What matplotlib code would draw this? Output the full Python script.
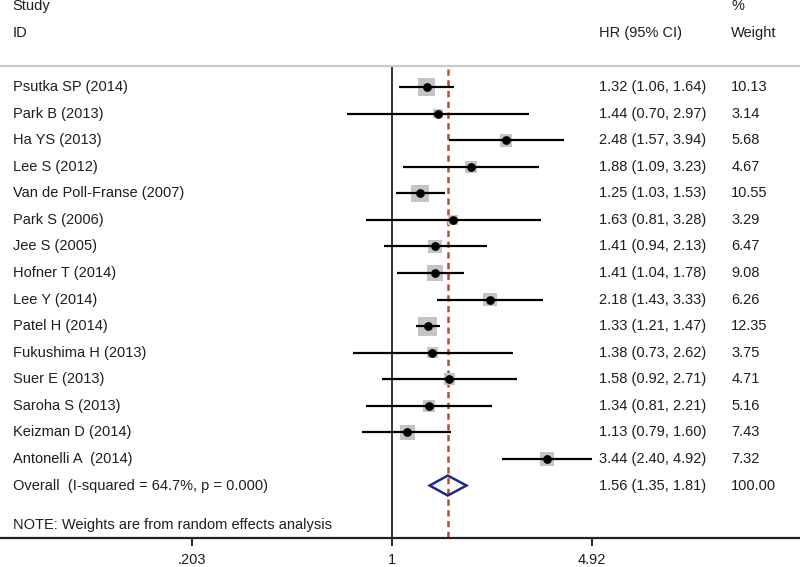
import numpy as np
import matplotlib
matplotlib.use("Agg")
import matplotlib.pyplot as plt
from matplotlib.patches import Polygon

plt.rcParams['font.family'] = ['Liberation Sans', 'DejaVu Sans']

studies = ["Psutka SP (2014)", "Park B (2013)", "Ha YS (2013)", "Lee S (2012)",
           "Van de Poll-Franse (2007)", "Park S (2006)", "Jee S (2005)",
           "Hofner T (2014)", "Lee Y (2014)", "Patel H (2014)",
           "Fukushima H (2013)", "Suer E (2013)", "Saroha S (2013)",
           "Keizman D (2014)", "Antonelli A  (2014)"]
hr = [1.32, 1.44, 2.48, 1.88, 1.25, 1.63, 1.41, 1.41, 2.18, 1.33, 1.38, 1.58, 1.34, 1.13, 3.44]
lo = [1.06, 0.70, 1.57, 1.09, 1.03, 0.81, 0.94, 1.04, 1.43, 1.21, 0.73, 0.92, 0.81, 0.79, 2.40]
hi = [1.64, 2.97, 3.94, 3.23, 1.53, 3.28, 2.13, 1.78, 3.33, 1.47, 2.62, 2.71, 2.21, 1.60, 4.92]
weight = [10.13, 3.14, 5.68, 4.67, 10.55, 3.29, 6.47, 9.08, 6.26, 12.35, 3.75, 4.71, 5.16, 7.43, 7.32]

overall_label = "Overall  (I-squared = 64.7%, p = 0.000)"
overall = (1.56, 1.35, 1.81)
overall_weight = 100.00
note = "NOTE: Weights are from random effects analysis"
xticks = [0.203, 1, 4.92]
xticklabels = [".203", "1", "4.92"]

txt = '#1e1e1e'
fs = 10.5

fig = plt.figure(figsize=(8, 5.67), dpi=100)
ax = fig.add_axes([0, 1 - 538 / 567, 1, 538 / 567])
ax.set_xscale('log')
ax.set_xlim(np.exp(-392 / 125.5), np.exp(408 / 125.5))
ybot = (538 - 87) / 26.57
ax.set_ylim(ybot, -87 / 26.57)

for s in ['top', 'left', 'right']:
    ax.spines[s].set_visible(False)
ax.spines['bottom'].set_linewidth(1.6)
ax.spines['bottom'].set_color('#222222')
ax.set_yticks([])
ax.set_xticks(xticks)
ax.set_xticklabels(xticklabels)
ax.minorticks_off()
ax.tick_params(axis='x', direction='out', length=6, width=1.4, pad=5,
               labelsize=fs, labelcolor=txt, color='#222222')

n = len(studies)
rows = np.arange(n)
top = -0.79
tr = ax.get_yaxis_transform()

# header
ax.axhline(top, color='#c8c8c8', lw=1.6)
ax.text(0.016, -3.05, "Study", transform=tr, fontsize=fs, color=txt, va='center')
ax.text(0.016, -2.03, "ID", transform=tr, fontsize=fs, color=txt, va='center')
ax.text(0.749, -2.03, "HR (95% CI)", transform=tr, fontsize=fs, color=txt, va='center')
ax.text(0.914, -3.05, "%", transform=tr, fontsize=fs, color=txt, va='center')
ax.text(0.914, -2.03, "Weight", transform=tr, fontsize=fs, color=txt, va='center')

# reference lines
ax.vlines(1, top, ybot, color='#111111', lw=1.2, zorder=1)
ax.vlines(overall[0], top + 0.1, ybot, color='#b5512f', lw=1.8, linestyles=(0, (2.5, 1.8)), zorder=1)

# studies
ax.scatter(hr, rows, marker='s', s=np.array(weight) * 15, color='#c4c4c4', zorder=2, linewidths=0)
ax.hlines(rows, lo, hi, color='black', lw=1.6, zorder=3)
ax.scatter(hr, rows, s=28, color='black', zorder=4)

for i in range(n):
    ax.text(0.016, rows[i], studies[i], transform=tr, fontsize=fs, color=txt, va='center')
    ax.text(0.749, rows[i], f"{hr[i]:.2f} ({lo[i]:.2f}, {hi[i]:.2f})",
            transform=tr, fontsize=fs, color=txt, va='center')
    ax.text(0.914, rows[i], f"{weight[i]:.2f}", transform=tr,
            fontsize=fs, color=txt, va='center')

# overall
yo = n
h = 0.376
diamond = Polygon([(overall[1], yo), (overall[0], yo - h), (overall[2], yo), (overall[0], yo + h)],
                  closed=True, fill=False, edgecolor='#1c2a8a', lw=1.8, zorder=5)
ax.add_patch(diamond)
ax.text(0.016, yo, overall_label, transform=tr, fontsize=fs, color=txt, va='center')
ax.text(0.749, yo, f"{overall[0]:.2f} ({overall[1]:.2f}, {overall[2]:.2f})",
        transform=tr, fontsize=fs, color=txt, va='center')
ax.text(0.914, yo, f"{overall_weight:.2f}", transform=tr,
        fontsize=fs, color=txt, va='center')

ax.text(0.016, (525 - 87) / 26.57, note, transform=tr, fontsize=fs, color=txt, va='center')

fig.savefig("out.png", dpi=100)
